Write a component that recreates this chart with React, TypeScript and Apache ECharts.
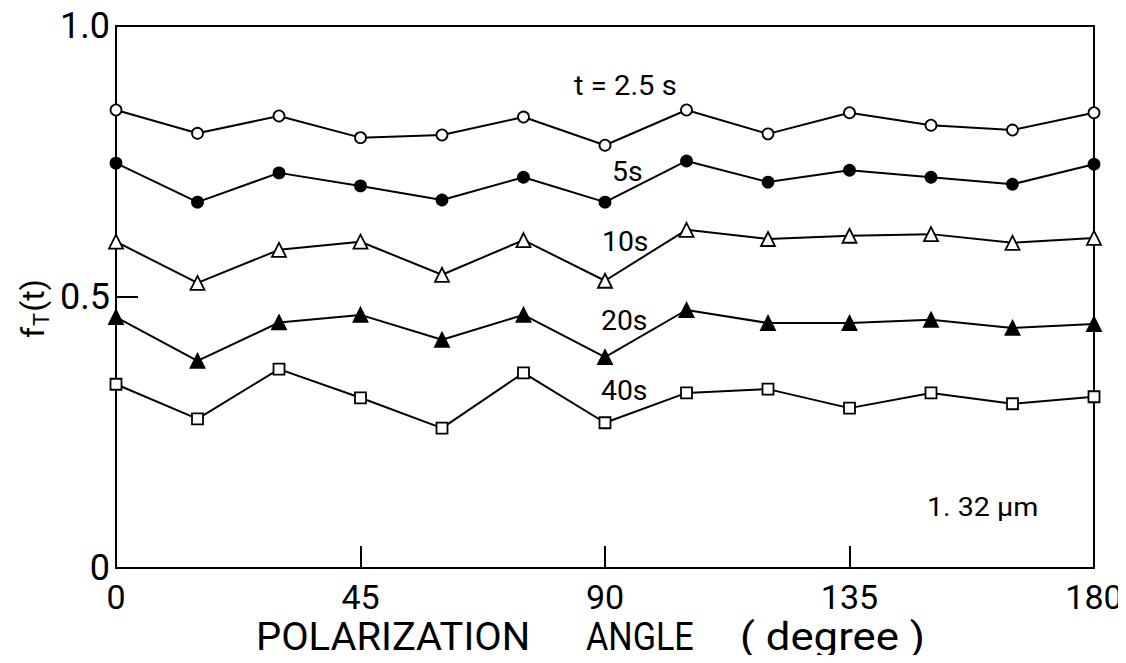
import React, { useEffect, useRef } from "react";
import * as echarts from "echarts";

const angles = [0, 15, 30, 45, 60, 75, 90, 105, 120, 135, 150, 165, 180];
const t2_5 = [0.845, 0.802, 0.834, 0.794, 0.799, 0.832, 0.78, 0.845, 0.801, 0.84, 0.817, 0.808, 0.84];
const t5 = [0.747, 0.675, 0.729, 0.705, 0.679, 0.721, 0.675, 0.751, 0.712, 0.734, 0.721, 0.708, 0.745];
const t10 = [0.602, 0.526, 0.587, 0.602, 0.541, 0.605, 0.53, 0.624, 0.607, 0.613, 0.616, 0.6, 0.609];
const t20 = [0.463, 0.382, 0.453, 0.467, 0.421, 0.467, 0.389, 0.476, 0.452, 0.452, 0.458, 0.443, 0.45];
const t40 = [0.339, 0.275, 0.367, 0.314, 0.258, 0.36, 0.268, 0.323, 0.33, 0.295, 0.323, 0.303, 0.316];

const seriesLabels = ["t = 2.5 s", "5s", "10s", "20s", "40s"];
const xTicks = [0, 45, 90, 135, 180];
const titleWords = ["POLARIZATION", "ANGLE", "( degree )"];

const FONT = "Roboto, 'DejaVu Sans', sans-serif";

export default function App() {
  const ref = useRef<HTMLDivElement>(null);
  useEffect(() => {
    if (!ref.current) return;
    const chart = echarts.init(ref.current, undefined, { renderer: "svg" });
    const mk = (name: string, data: number[], symbol: string, filled: boolean, size: number) => ({
      name,
      type: "line",
      data: angles.map((a, i) => [a, data[i]]),
      symbol,
      symbolSize: size,
      showAllSymbol: true,
      lineStyle: { color: "#000", width: 2 },
      itemStyle: { color: filled ? "#000" : "#fff", borderColor: "#000", borderWidth: 1.8 },
      z: 3,
    });
    const lbl = (text: string, x: number, y: number, size = 26, sx = 1) => ({
      type: "text",
      x,
      y,
      scaleX: sx,
      style: { text, fontSize: size, fontFamily: FONT, fill: "#000" },
    });
    chart.setOption({
      animation: false,
      backgroundColor: "#fff",
      grid: {
        left: 116,
        right: 32,
        top: 26,
        bottom: 95,
        show: true,
        borderColor: "#000",
        borderWidth: 2,
        backgroundColor: "transparent",
      },
      xAxis: {
        type: "value",
        min: 0,
        max: 180,
        interval: 45,
        axisLine: { show: true, lineStyle: { color: "#000", width: 2 } },
        axisTick: { show: true, inside: true, length: 22, lineStyle: { color: "#000", width: 2 } },
        splitLine: { show: false },
        axisLabel: {
          color: "#000",
          fontSize: 34,
          fontFamily: FONT,
          margin: 12,
          formatter: (v: number) => (xTicks.includes(v) ? String(v) : ""),
        },
      },
      yAxis: {
        type: "value",
        min: 0,
        max: 1,
        interval: 0.5,
        axisLine: { show: true, lineStyle: { color: "#000", width: 2 } },
        axisTick: { show: true, inside: true, length: 22, lineStyle: { color: "#000", width: 2 } },
        splitLine: { show: false },
        axisLabel: {
          color: "#000",
          fontSize: 36,
          fontFamily: FONT,
          margin: 6,
          formatter: (v: number) => (v === 0 ? "0" : v.toFixed(1)),
        },
      },
      series: [
        mk(seriesLabels[0], t2_5, "circle", false, 11),
        mk(seriesLabels[1], t5, "circle", true, 11),
        mk(seriesLabels[2], t10, "triangle", false, 14),
        mk(seriesLabels[3], t20, "triangle", true, 14),
        mk(seriesLabels[4], t40, "rect", false, 11),
      ],
      graphic: [
        lbl(seriesLabels[0], 574, 72, 27, 1.08),
        lbl(seriesLabels[1], 612, 158, 27, 1.05),
        lbl(seriesLabels[2], 602, 228, 27, 1.05),
        lbl(seriesLabels[3], 601, 307, 27, 1.05),
        lbl(seriesLabels[4], 601, 377, 27, 1.05),
        lbl("1. 32 μm", 927, 494, 26, 1.1),
        lbl(titleWords[0], 256, 618, 38, 1.05),
        lbl(titleWords[1], 586, 618, 38, 0.9),
        lbl(titleWords[2], 740, 618, 38, 1.15),
        {
          type: "text",
          x: 14,
          y: 338,
          rotation: Math.PI / 2,
          style: {
            text: "{a|f}{b|T}{a|(t)}",
            fill: "#000",
            rich: {
              a: { fontSize: 32, fontFamily: FONT, fill: "#000" },
              b: { fontSize: 22, fontFamily: FONT, fill: "#000", padding: [16, 1, 0, 1] },
            },
          },
        },
      ],
    });
    return () => chart.dispose();
  }, []);
  return <div ref={ref} style={{ width: 1126, height: 663, margin: -8 }} />;
}
